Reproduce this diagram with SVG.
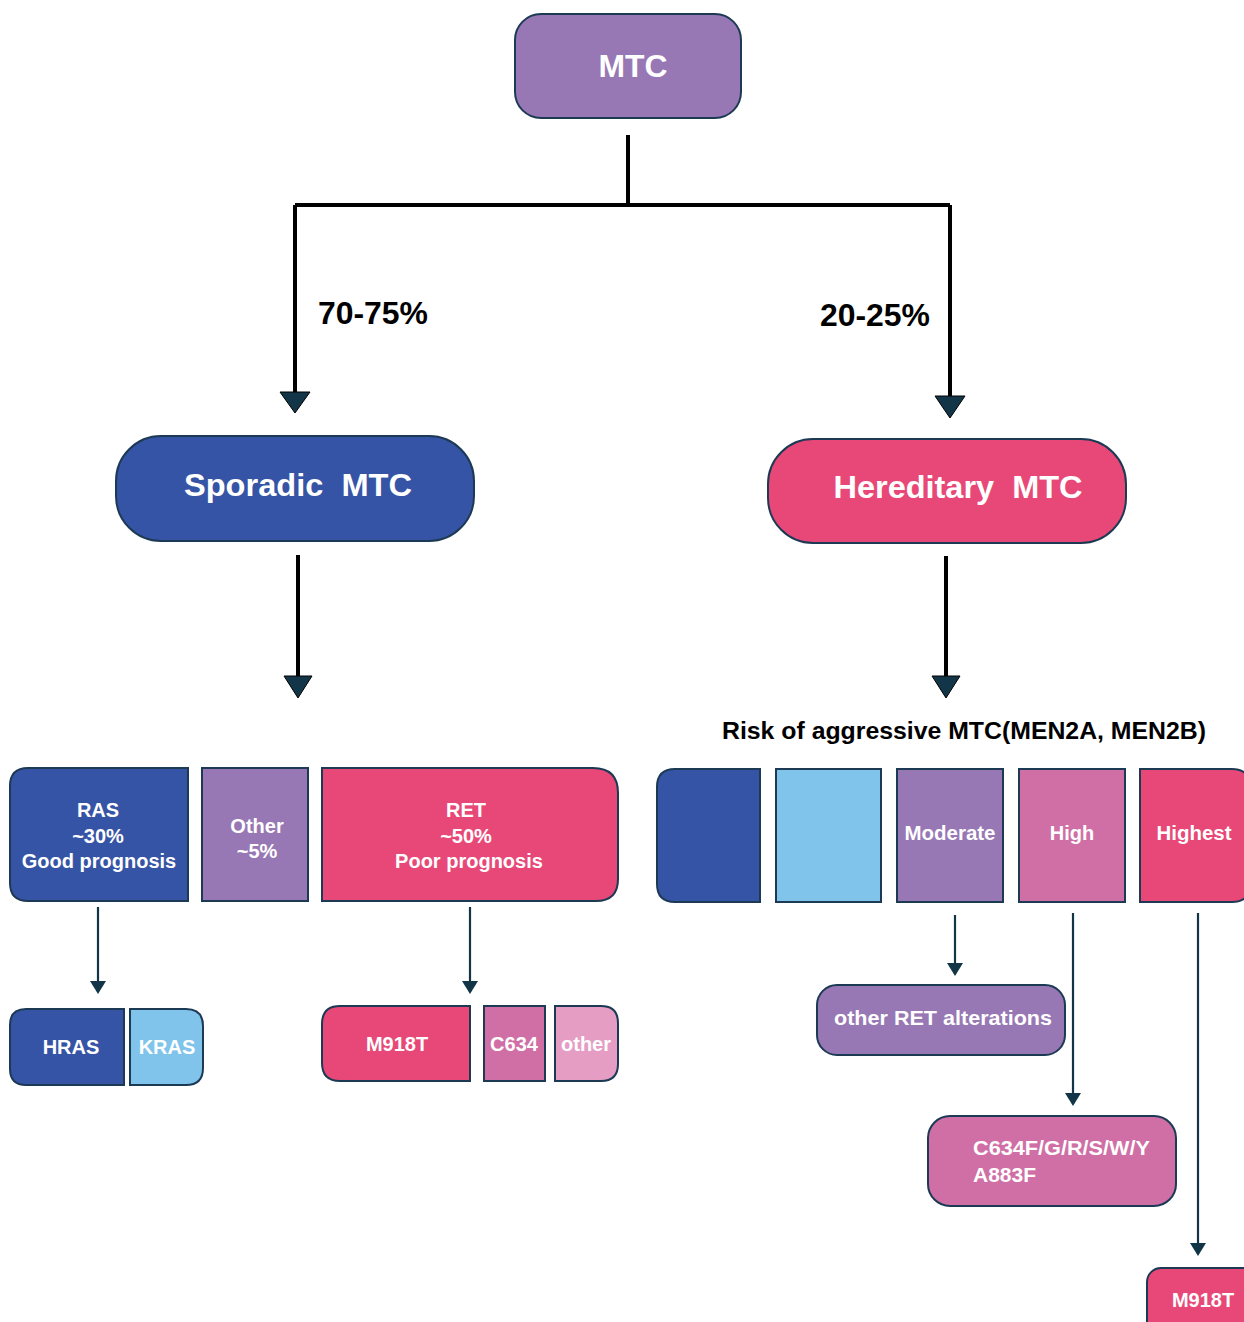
<svg xmlns="http://www.w3.org/2000/svg" width="1244" height="1322" viewBox="0 0 1244 1322">
<defs>
<style>
.box{stroke:#1d3a55;stroke-width:2}
.t{font-family:"Liberation Sans",Arial,sans-serif;font-weight:bold;fill:#ffffff;text-anchor:middle}
.big{font-size:31px}
.med{font-size:20px}
.lbl{font-family:"Liberation Sans",Arial,sans-serif;font-weight:bold;fill:#000;font-size:31px}
.thick{stroke:#000;stroke-width:4;fill:none}
.thin{stroke:#123548;stroke-width:2.2;fill:none}
.purple{fill:#9878B4}.blue{fill:#3654A5}.pink{fill:#E84877}.mauve{fill:#CF6FA6}.lblue{fill:#80C4EC}.lpink{fill:#E59DC4}
</style>
</defs>
<g id="connectors">
<path class="thick" d="M628,135 V205 M295,205 H950 M295,205 V392 M950,205 V398"/>
<path d="M280,392 L310,392 L295,413 Z" fill="#123548" stroke="#000" stroke-width="1"/>
<path d="M935,396 L965,396 L950,418 Z" fill="#123548" stroke="#000" stroke-width="1"/>
<path class="thick" d="M298,555 V678"/>
<path d="M284,676 L312,676 L298,698 Z" fill="#123548" stroke="#000" stroke-width="1"/>
<path class="thick" d="M946,556 V678"/>
<path d="M932,676 L960,676 L946,698 Z" fill="#123548" stroke="#000" stroke-width="1"/>
<path class="thin" d="M98,907 V981"/>
<path d="M90,981 L106,981 L98,994 Z" fill="#123548"/>
<path class="thin" d="M470,907 V981"/>
<path d="M462,981 L478,981 L470,994 Z" fill="#123548"/>
<path class="thin" d="M955,915 V963"/>
<path d="M947,963 L963,963 L955,976 Z" fill="#123548"/>
<path class="thin" d="M1073,913 V1093"/>
<path d="M1065,1093 L1081,1093 L1073,1106 Z" fill="#123548"/>
<path class="thin" d="M1198,913 V1243"/>
<path d="M1190,1243 L1206,1243 L1198,1256 Z" fill="#123548"/>
<text class="lbl" x="318" y="324" textLength="110" lengthAdjust="spacingAndGlyphs">70-75%</text>
<text class="lbl" x="820" y="326" textLength="110" lengthAdjust="spacingAndGlyphs">20-25%</text>
</g>
<g id="mtc"><rect class="box purple" x="515" y="14" width="226" height="104" rx="26"/><text class="t big" x="633" y="77" textLength="69" lengthAdjust="spacingAndGlyphs">MTC</text></g>
<g id="sporadic"><rect class="box blue" x="116" y="436" width="358" height="105" rx="45"/><text class="t big" x="298" y="496" xml:space="preserve" textLength="228" lengthAdjust="spacingAndGlyphs">Sporadic  MTC</text></g>
<g id="hereditary"><rect class="box pink" x="768" y="439" width="358" height="104" rx="45"/><text class="t big" x="958" y="498" xml:space="preserve" textLength="249" lengthAdjust="spacingAndGlyphs">Hereditary  MTC</text></g>
<g id="risk-label"><text x="964" y="739" textLength="484" lengthAdjust="spacingAndGlyphs" style="font-family:'Liberation Sans',Arial,sans-serif;font-weight:bold;font-size:23px;fill:#000;text-anchor:middle">Risk of aggressive MTC(MEN2A, MEN2B)</text></g>
<g id="ras"><path class="box blue" d="M28,768 H188 V901 H28 Q10,901 10,883 V786 Q10,768 28,768 Z"/><text class="t med" x="98" y="817">RAS</text><text class="t med" x="98" y="843">~30%</text><text class="t med" x="99" y="868">Good prognosis</text></g>
<g id="other5"><rect class="box purple" x="202" y="768" width="106" height="133"/><text class="t med" x="257" y="833">Other</text><text class="t med" x="257" y="858">~5%</text></g>
<g id="ret"><path class="box pink" d="M322,768 H593 Q618,768 618,793 V879 Q618,901 596,901 H322 Z"/><text class="t med" x="466" y="817">RET</text><text class="t med" x="466" y="843">~50%</text><text class="t med" x="469" y="868">Poor prognosis</text></g>
<g id="hras"><path class="box blue" d="M26,1009 H124 V1085 H26 Q10,1085 10,1069 V1025 Q10,1009 26,1009 Z"/><text class="t med" x="71" y="1054">HRAS</text></g>
<g id="kras"><path class="box lblue" d="M130,1009 H186 Q203,1009 203,1026 V1068 Q203,1085 186,1085 H130 Z"/><text class="t med" x="167" y="1054">KRAS</text></g>
<g id="m918t-s"><path class="box pink" d="M340,1006 H470 V1081 H340 Q322,1081 322,1063 V1024 Q322,1006 340,1006 Z"/><text class="t med" x="397" y="1051">M918T</text></g>
<g id="c634"><rect class="box mauve" x="484" y="1006" width="61" height="75"/><text class="t med" x="514" y="1051">C634</text></g>
<g id="other-s"><path class="box lpink" d="M555,1006 H601 Q618,1006 618,1023 V1064 Q618,1081 601,1081 H555 Z"/><text class="t med" x="586" y="1051">other</text></g>
<g id="risk-blue"><path class="box blue" d="M675,769 H760 V902 H675 Q657,902 657,884 V787 Q657,769 675,769 Z"/></g>
<g id="risk-lblue"><rect class="box lblue" x="776" y="769" width="105" height="133"/></g>
<g id="moderate"><rect class="box purple" x="897" y="769" width="106" height="133"/><text class="t med" x="950" y="840" textLength="91" lengthAdjust="spacingAndGlyphs">Moderate</text></g>
<g id="high"><rect class="box mauve" x="1019" y="769" width="106" height="133"/><text class="t med" x="1072" y="840">High</text></g>
<g id="highest"><path class="box pink" d="M1140,769 H1232 Q1250,769 1250,787 V884 Q1250,902 1232,902 H1140 Z"/><text class="t med" x="1194" y="840" textLength="75" lengthAdjust="spacingAndGlyphs">Highest</text></g>
<g id="other-ret"><rect class="box purple" x="817" y="985" width="248" height="70" rx="20"/><text class="t med" x="943" y="1025" textLength="218" lengthAdjust="spacingAndGlyphs" style="font-size:21px">other RET alterations</text></g>
<g id="c634f"><rect class="box mauve" x="928" y="1116" width="248" height="90" rx="22"/><text class="t med" x="973" y="1155" style="text-anchor:start;font-size:21px" textLength="177" lengthAdjust="spacingAndGlyphs">C634F/G/R/S/W/Y</text><text class="t med" x="973" y="1182" style="text-anchor:start;font-size:21px">A883F</text></g>
<g id="m918t-h"><rect class="box pink" x="1147" y="1268" width="110" height="70" rx="14"/><text class="t med" x="1203" y="1307">M918T</text></g>
</svg>
